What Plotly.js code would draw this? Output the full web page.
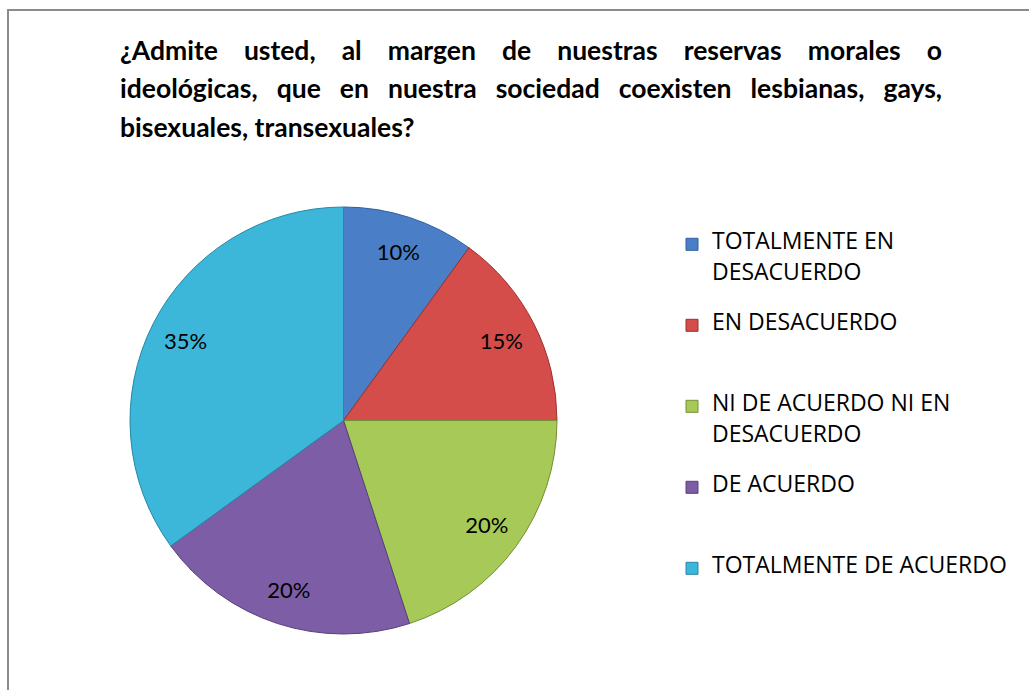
<!DOCTYPE html>
<html>
<head>
<meta charset="utf-8">
<script src="https://cdn.plot.ly/plotly-3.0.1.min.js"></script>
<style>
html,body{margin:0;padding:0;background:#fff;}
#chart{width:1029px;height:690px;}
</style>
</head>
<body>
<div id="chart"></div>
<script>
const categories = [
  "TOTALMENTE EN DESACUERDO",
  "EN DESACUERDO",
  "NI DE ACUERDO NI EN DESACUERDO",
  "DE ACUERDO",
  "TOTALMENTE DE ACUERDO"
];
// legend text lines as wrapped in the reference
const legendLines = [
  ["TOTALMENTE EN", "DESACUERDO"],
  ["EN DESACUERDO"],
  ["NI DE ACUERDO NI EN", "DESACUERDO"],
  ["DE ACUERDO"],
  ["TOTALMENTE DE ACUERDO"]
];
const values = [10, 15, 20, 20, 35];
const colors = ["#4a7fc8", "#d44d4a", "#a6c957", "#7d5da6", "#3cb6d9"];
const edgeColors = ["#2f5f9e", "#9e2f2c", "#738f33", "#56407a", "#2688a6"];
const titleLines = [
  "¿Admite usted, al margen de nuestras reservas morales o",
  "ideológicas, que en nuestra sociedad coexisten lesbianas, gays,",
  "bisexuales, transexuales?"
];

const W = 1029, H = 690;
const FONT = "Lato, 'Liberation Sans', Arial, sans-serif";
const LEGFONT = "'Open Sans', 'Liberation Sans', Arial, sans-serif";
const titleSize = 26.5;
const legendTextSize = 23;

// legend labels: each visible line separated by a spacer line, padded to 5 lines
const legendLabels = legendLines.map(lines => {
  const parts = [];
  lines.forEach((t, i) => {
    if (i > 0) parts.push(' ');
    parts.push('<span style="font-size:' + legendTextSize + 'px">' + t + '</span>');
  });
  while (parts.length < 5) parts.push(' ');
  return parts.join('<br>');
});

// justify title lines (except the last) with word-spacing
const cv = document.createElement('canvas').getContext('2d');
cv.font = "bold " + titleSize + "px Lato";
const titleLeft = 118, titleRight = 940;
const titleYs = [50, 88, 127];
const annotations = titleLines.map((ln, i) => {
  let txt = ln;
  if (i < titleLines.length - 1) {
    const nat = cv.measureText(ln).width;
    const spaces = (ln.match(/ /g) || []).length;
    const ws = Math.max(0, (titleRight - titleLeft - nat) / spaces);
    txt = '<span style="word-spacing:' + ws.toFixed(2) + 'px">' + ln + '</span>';
  }
  return {
    xref: 'paper', yref: 'paper',
    x: titleLeft / W, y: 1 - titleYs[i] / H,
    xanchor: 'left', yanchor: 'middle',
    text: '<b>' + txt + '</b>',
    showarrow: false, align: 'left',
    font: {family: FONT, size: titleSize, color: '#000'}
  };
});

const dom = {x: [130 / W, 557 / W], y: [(H - 634) / H, (H - 207) / H]};

const pie = {
  type: 'pie',
  labels: legendLabels,
  values: values,
  sort: false,
  direction: 'clockwise',
  rotation: 0,
  domain: dom,
  marker: {colors: colors, line: {color: edgeColors, width: 1}},
  textinfo: 'none',
  hoverinfo: 'none',
  showlegend: true
};
const labelRing = {
  type: 'pie',
  labels: legendLabels,
  values: values,
  sort: false,
  direction: 'clockwise',
  rotation: 0,
  domain: dom,
  hole: 0.66,
  marker: {colors: values.map(() => 'rgba(0,0,0,0)'), line: {width: 0}},
  textinfo: 'percent',
  textposition: 'inside',
  insidetextorientation: 'horizontal',
  textfont: {family: FONT, size: 22, color: '#000'},
  hoverinfo: 'none',
  showlegend: false
};

const layout = {
  width: W, height: H,
  margin: {l: 0, r: 0, t: 0, b: 0},
  paper_bgcolor: '#fff',
  plot_bgcolor: '#fff',
  showlegend: true,
  legend: {
    x: 672 / W, xanchor: 'left',
    y: 1 - 230 / H, yanchor: 'top',
    orientation: 'v',
    valign: 'top',
    font: {family: LEGFONT, size: 12, color: '#000'},
    bgcolor: 'rgba(0,0,0,0)'
  },
  annotations: annotations,
  shapes: [{
    type: 'rect', xref: 'paper', yref: 'paper',
    x0: 8 / W, x1: 1.2, y0: -0.2, y1: 1 - 10 / H,
    line: {color: '#8c8c8c', width: 2}, layer: 'below'
  }]
};

Plotly.newPlot('chart', [pie, labelRing], layout, {displayModeBar: false, staticPlot: true});
</script>
</body>
</html>
